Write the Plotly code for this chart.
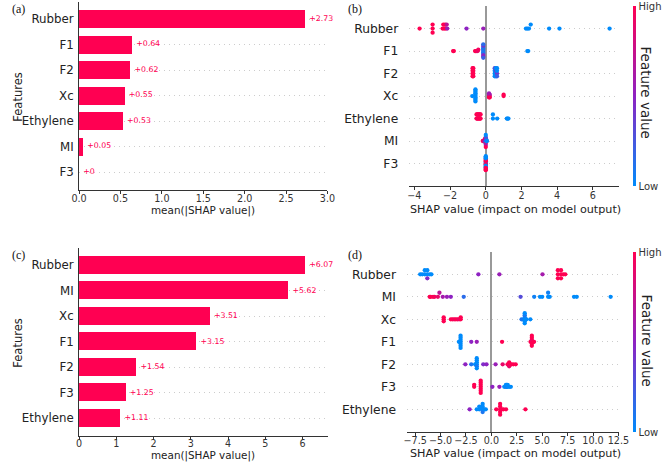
import numpy as np
import plotly.graph_objects as go

W, H = 671, 463
RED = "#ff0052"
INK = "#333333"
FONT = "DejaVu Sans"

# ---------------- bar panels (mean |SHAP|) ----------------
features_a = ["Rubber", "F1", "F2", "Xc", "Ethylene", "MI", "F3"]
mean_abs_a = [2.73, 0.64, 0.62, 0.55, 0.53, 0.05, 0.0]

features_c = ["Rubber", "MI", "Xc", "F1", "F2", "F3", "Ethylene"]
mean_abs_c = [6.07, 5.62, 3.51, 3.15, 1.54, 1.25, 1.11]

# ---------------- beeswarm panel (b) ----------------
features_b = ["Rubber", "F1", "F2", "Xc", "Ethylene", "MI", "F3"]
b_rubber_shap = [-3.71, -2.98, -2.98, -2.98, -2.42, -2.38, -2.33, -2.28, -2.24, -2.19, -2.16,
                 -1.08, -0.14, 2.25, 2.33, 2.42, 2.52, 3.55, 4.13, 6.94]
b_rubber_feat = [1, 1, 1, 1, 1, 1, 1, 1, 1, 0.7, 0.55, 0.5, 0.55, 0, 0, 0, 0, 0, 0, 0]
b_f1_shap = [-1.83, -1.79, -0.60, -0.56, -0.52, -0.46, -0.42] + [-0.14] * 11 + [2.33, 2.38]
b_f1_feat = [1, 1, 1, 1, 1, 0.9, 0.95, 0.1, 0.1, 0.1, 0.1, 0.1, 0.1, 0.45, 0.45, 0.5, 0.15, 0.2, 0, 0]
b_f2_shap = [-0.74] * 4 + [-0.70] * 4 + [0.50] * 4 + [0.57] * 4 + [0.63] * 4
b_f2_feat = [1, 1, 1, 1, 1, 1, 1, 1, 0, 0, 0, 0.3, 0, 0.35, 0, 0, 0.4, 0, 0.2, 0]
b_xc_shap = [-0.76] + [-0.58] * 10 + [0.18] * 4 + [0.22] * 3 + [1.00] * 2
b_xc_feat = [0, 0, 0, 0, 0, 0, 0, 0, 0, 0, 0, 1, 0.6, 1, 0.55, 1, 0.6, 1, 1, 1]
b_eth_shap = [-0.52, -0.52, -0.48, -0.48, -0.44, -0.44, -0.40, -0.40, -0.36, -0.36, -0.32, -0.32,
              -0.29, -0.29, 0.40, 0.40, 0.64, 1.18, 1.22, 1.27]
b_eth_feat = [1, 1, 1, 1, 0.9, 1, 1, 1, 1, 1, 1, 0.9, 1, 1, 0, 0, 0, 0, 0, 0]
b_mi_shap = [-0.17, -0.12, -0.08, -0.05, -0.05, -0.02, -0.02, -0.02, 0.0, 0.0, 0.0, 0.0, 0.0, 0.0,
             0.0, 0.02, 0.02, 0.04, 0.05, 0.06]
b_mi_feat = [1, 0.9, 0.6, 0.7, 1, 0.5, 0.9, 0.1, 0, 0.5, 1, 0.2, 0.6, 0, 1, 0.1, 0.3, 0, 0.1, 0]
b_f3_shap = [0.0] * 20
b_f3_feat = [1, 0, 1, 0, 1, 1, 0, 1, 0, 1, 0, 1, 1, 0, 1, 0, 1, 0, 1, 0]

# ---------------- beeswarm panel (d) ----------------
features_d = ["Rubber", "MI", "Xc", "F1", "F2", "F3", "Ethylene"]
d_rubber_shap = [-7.0, -6.8, -6.55, -6.55, -6.3, -6.3, -6.3, -6.05, -5.9,
                 -1.28, 0.79, 5.03, 6.54, 6.54, 6.54, 6.85, 6.85, 6.85, 7.08, 7.27]
d_rubber_feat = [0, 0, 0, 0, 0, 0, 0.45, 0, 0, 0.5, 0.55, 0.6, 1, 1, 1, 1, 1, 1, 1, 1]
d_mi_shap = [-6.07, -5.97, -5.74, -5.59, -5.26, -5.11, -4.78, -4.37, -3.99, -2.72,
             2.87, 4.21, 4.78, 5.0, 5.58, 5.58, 5.74, 8.13, 8.4, 11.73]
d_mi_feat = [1, 1, 1, 0.95, 0.9, 0.7, 0.6, 0.55, 0.5, 0.15,
             0.3, 0.05, 0, 0, 0, 0.05, 0, 0, 0, 0]
d_xc_shap = [-4.69, -4.69, -4.69, -3.99, -3.82, -3.66, -3.5, -3.34, -3.18, -3.02, -3.02,
             2.97, 3.28, 3.28, 3.28, 3.28, 3.28, 3.28, 3.45, 3.83]
d_xc_feat = [1, 1, 1, 1, 1, 0.95, 1, 1, 0.9, 1, 1, 0.1, 0, 0, 0, 0.1, 0, 0, 0, 0]
d_f1_shap = [-3.2] + [-3.03] * 7 + [-1.98, -1.44, 1.05, 3.85] + [3.98] * 6 + [4.12, 4.2]
d_f1_feat = [0, 0, 0, 0, 0, 0, 0, 0, 0.5, 0.55, 1, 1, 1, 0.9, 1, 1, 1, 1, 1, 1]
d_f2_shap = [-2.56, -1.98, -1.6, -1.44, -1.44, -1.44, -1.44, -1.44, -1.44, -0.8, -0.48, 0.41,
             1.11, 1.59, 1.75, 1.75, 1.75, 1.95, 2.15, 2.39]
d_f2_feat = [0.5, 0.1, 0, 0, 0, 0.1, 0, 0, 0, 0.45, 0.5, 0.55, 0.9, 1, 1, 1, 0.9, 1, 1, 1]
d_f3_shap = [-1.69, -1.69] + [-1.05] * 7 + [0.1, 0.79, 1.27, 1.43, 1.43, 1.5, 1.5, 1.6, 1.6, 1.75, 1.91]
d_f3_feat = [1, 1, 1, 1, 1, 1, 1, 1, 1, 0.5, 0.55, 0, 0, 0, 0.1, 0, 0, 0, 0, 0]
d_eth_shap = [-2.14, -1.44, -1.19, -1.19, -0.86, -0.86, -0.86, -0.86, -0.7, -0.55,
              0.48, 0.86, 0.86, 0.86, 0.86, 0.86, 1.02, 1.18, 1.44, 3.35]
d_eth_feat = [0.5, 0, 0, 0, 0, 0, 0.1, 0, 0, 0, 1, 1, 1, 1, 1, 1, 1, 1, 1, 1]

rows_b = {
    "Rubber": (b_rubber_shap, b_rubber_feat), "F1": (b_f1_shap, b_f1_feat),
    "F2": (b_f2_shap, b_f2_feat), "Xc": (b_xc_shap, b_xc_feat),
    "Ethylene": (b_eth_shap, b_eth_feat), "MI": (b_mi_shap, b_mi_feat),
    "F3": (b_f3_shap, b_f3_feat),
}
rows_d = {
    "Rubber": (d_rubber_shap, d_rubber_feat), "MI": (d_mi_shap, d_mi_feat),
    "Xc": (d_xc_shap, d_xc_feat), "F1": (d_f1_shap, d_f1_feat),
    "F2": (d_f2_shap, d_f2_feat), "F3": (d_f3_shap, d_f3_feat),
    "Ethylene": (d_eth_shap, d_eth_feat),
}

COLORSCALE = [[0.0, "#008bfb"], [0.5, "#8e22c2"], [1.0, "#ff0052"]]


def swarm_offsets(vals, nbins=100, row_height=0.4):
    v = np.asarray(vals, float)
    span = v.max() - v.min()
    quant = np.round(nbins * (v - v.min()) / (span + 1e-8))
    order = np.lexsort((np.arange(len(v)), quant))
    ys = np.zeros(len(v))
    layer, last = 0, None
    for i in order:
        if quant[i] != last:
            layer = 0
        ys[i] = np.ceil(layer / 2) * ((layer % 2) * 2 - 1)
        layer += 1
        last = quant[i]
    ys *= 0.9 * (row_height / np.max(ys + 1))
    return ys


def fmt_label(v):
    s = f"{v:.2f}".rstrip("0").rstrip(".")
    return "+" + s


def px_x(p):
    return p / W


def px_y(p):
    return 1 - p / H


fig = go.Figure()

# bar panels
for feats, vals, ax in [(features_a, mean_abs_a, ""), (features_c, mean_abs_c, "3")]:
    n = len(feats)
    pos = [n - 1 - i for i in range(n)]
    fig.add_trace(go.Bar(x=vals, y=pos, orientation="h", width=0.7,
                         marker=dict(color=RED, line=dict(width=0)),
                         xaxis="x" + ax, yaxis="y" + ax, hoverinfo="skip"))
    fig.add_trace(go.Scatter(x=vals, y=pos, mode="markers+text", text=[fmt_label(v) for v in vals],
                             textposition="middle right",
                             marker=dict(size=5, opacity=0),
                             textfont=dict(size=7.8, color=RED, family=FONT),
                             xaxis="x" + ax, yaxis="y" + ax, cliponaxis=False, hoverinfo="skip"))

# beeswarm panels
for feats, rows, ax, cax in [(features_b, rows_b, "2", "coloraxis"), (features_d, rows_d, "4", "coloraxis2")]:
    n = len(feats)
    xs, ys, cs = [], [], []
    for i, f in enumerate(feats):
        shap_v, feat_v = rows[f]
        off = swarm_offsets(shap_v)
        base = n - 1 - i
        xs += list(shap_v)
        ys += list(base + off)
        cs += list(feat_v)
    fig.add_trace(go.Scatter(x=xs, y=ys, mode="markers",
                             marker=dict(size=4.3, color=cs, coloraxis=cax, line=dict(width=0)),
                             xaxis="x" + ax, yaxis="y" + ax, hoverinfo="skip"))

tick_font = dict(family=FONT, size=9.6, color=INK)
grid_dash = "1px,4px"


def bar_xaxis(domain, rng, dtick, fmt):
    return dict(domain=domain, range=rng, dtick=dtick, tick0=0, tickformat=fmt,
                showline=True, linecolor=INK, linewidth=1, ticks="outside", ticklen=3,
                tickcolor=INK, tickfont=tick_font, ticklabelstandoff=-4,
                showgrid=False, zeroline=False, fixedrange=True)


def bar_yaxis(domain, rng, feats, anchor, size):
    n = len(feats)
    return dict(domain=domain, range=rng, anchor=anchor,
                tickvals=[n - 1 - i for i in range(n)], ticktext=feats,
                showline=True, linecolor=INK, linewidth=1, ticks="", ticklabelstandoff=2,
                tickfont=dict(family=FONT, size=size, color="#222222"),
                showgrid=True, gridcolor="#cccccc", gridwidth=0.8, griddash=grid_dash,
                zeroline=False, fixedrange=True)


def swarm_xaxis(domain, rng, dtick, fmt):
    return dict(domain=domain, range=rng, dtick=dtick, tick0=0, tickformat=fmt,
                showline=True, linecolor=INK, linewidth=1, ticks="outside", ticklen=3,
                tickcolor=INK, tickfont=tick_font, ticklabelstandoff=-3, showgrid=False,
                zeroline=True, zerolinecolor="#999999", zerolinewidth=1.6, fixedrange=True)


def swarm_yaxis(domain, feats, anchor):
    n = len(feats)
    return dict(domain=domain, range=[-1, n], anchor=anchor,
                tickvals=[n - 1 - i for i in range(n)], ticktext=feats,
                showline=False, ticks="", ticklabelstandoff=10,
                tickfont=dict(family=FONT, size=12.3, color="#222222"),
                showgrid=True, gridcolor="#cccccc", gridwidth=0.8, griddash=grid_dash,
                zeroline=False, fixedrange=True)


def cbar(ycenter):
    return dict(x=px_x(642), xanchor="left", y=px_y(ycenter), yanchor="middle",
                len=180, lenmode="pixels", thickness=2.5, thicknessmode="pixels",
                outlinewidth=0, tickvals=[0, 1], ticktext=["Low", "High"], ticks="",
                tickfont=dict(family=FONT, size=10, color=INK), xpad=0, ypad=0)


fig.update_layout(
    width=W, height=H, margin=dict(l=0, r=0, t=0, b=0),
    paper_bgcolor="white", plot_bgcolor="white", showlegend=False,
    font=dict(family=FONT, color=INK),
    bargap=0,
    xaxis=bar_xaxis([px_x(73), px_x(328.3)], [0, 3.0], 0.5, ".1f"),
    yaxis=bar_yaxis([px_y(190), px_y(1.7)], [-0.706, 6.68], features_a, "x", 11.8),
    xaxis2=swarm_xaxis([px_x(412.3), px_x(627.7)], [-4.29, 7.46], 2, "d"),
    yaxis2=swarm_yaxis([px_y(186), px_y(6.1)], features_b, "x2"),
    xaxis3=bar_xaxis([px_x(73), px_x(329.3)], [0, 6.695], 1, "d"),
    yaxis3=bar_yaxis([px_y(435.7), px_y(248.3)], [-0.69, 6.66], features_c, "x3", 11.8),
    xaxis4=swarm_xaxis([px_x(410), px_x(627.7)], [-8.3, 12.54], 2.5, ".1f"),
    yaxis4=swarm_yaxis([px_y(431.8), px_y(251.8)], features_d, "x4"),
    coloraxis=dict(colorscale=COLORSCALE, cmin=0, cmax=1, colorbar=cbar(96)),
    coloraxis2=dict(colorscale=COLORSCALE, cmin=0, cmax=1, colorbar=cbar(342)),
)
fig.layout.xaxis.anchor = "y"
fig.layout.xaxis2.anchor = "y2"
fig.layout.xaxis3.anchor = "y3"
fig.layout.xaxis4.anchor = "y4"

annotations = []


def ann(text, x, y, size, family=FONT, angle=0, xanchor="center", color=INK):
    annotations.append(dict(text=text, x=px_x(x), y=px_y(y), xref="paper", yref="paper",
                            showarrow=False, xanchor=xanchor, yanchor="middle",
                            textangle=angle, font=dict(family=family, size=size, color=color)))


ann("(a)", 2, 9.5, 12, family="Liberation Serif", xanchor="left", color="#111111")
ann("(b)", 347, 9.5, 12, family="Liberation Serif", xanchor="left", color="#111111")
ann("(c)", 2.5, 255, 12, family="Liberation Serif", xanchor="left", color="#111111")
ann("(d)", 347, 255, 12, family="Liberation Serif", xanchor="left", color="#111111")
ann("Features", 10, 97, 11.5, angle=-90, color="#222222")
ann("Features", 10, 343, 11.5, angle=-90, color="#222222")
ann("mean(|SHAP value|)", 200.7, 210.5, 10.4, color="#222222")
ann("mean(|SHAP value|)", 200.7, 455.5, 10.4, color="#222222")
ann("SHAP value (impact on model output)", 521, 209, 11.2, color="#222222")
ann("SHAP value (impact on model output)", 521, 453, 11.2, color="#222222")
ann("Feature value", 656, 93, 13.5, angle=90, color="#222222")
ann("Feature value", 657, 341, 13.5, angle=90, color="#222222")
fig.update_layout(annotations=annotations)

fig.write_html("out.html")
